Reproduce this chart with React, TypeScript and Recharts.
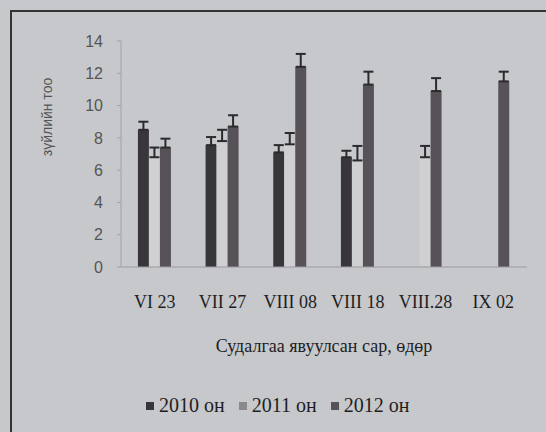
import React from 'react';
import { BarChart, Bar, XAxis, YAxis, ErrorBar, Label } from 'recharts';

const dates = ['VI 23', 'VII 27', 'VIII 08', 'VIII 18', 'VIII.28', 'IX 02'];
const y2010 = [8.5, 7.55, 7.1, 6.8, null, null];
const y2011 = [6.8, 7.8, 7.6, 6.6, 6.8, null];
const y2012 = [7.4, 8.7, 12.4, 11.3, 10.9, 11.5];
const err2010 = [0.5, 0.5, 0.45, 0.4, null, null];
const err2011 = [0.6, 0.7, 0.7, 0.9, 0.7, null];
const err2012 = [0.55, 0.7, 0.8, 0.8, 0.8, 0.6];
const yTicks = [0, 2, 4, 6, 8, 10, 12, 14];

const series = [
  { key: 'y2010', err: 'e2010', name: '2010 он', color: '#38363b', mark: '#38363b' },
  { key: 'y2011', err: 'e2011', name: '2011 он', color: '#d0d0d3', mark: '#8a8a8e' },
  { key: 'y2012', err: 'e2012', name: '2012 он', color: '#575257', mark: '#575257' },
];

const up = (v: number | null) => (v == null ? null : [0, v]);

const data = dates.map((d, i) => ({
  date: d,
  y2010: y2010[i],
  y2011: y2011[i],
  y2012: y2012[i],
  e2010: up(err2010[i]),
  e2011: up(err2011[i]),
  e2012: up(err2012[i]),
}));

const serif = '"Liberation Serif", "Times New Roman", serif';
const sans = '"Liberation Sans", Arial, sans-serif';

// rotated y title sits left of the tick labels, above the plot's middle
const YTitle = () => {
  const x = 47;
  const y = 117;
  return (
    <text
      x={x}
      y={y}
      transform={`rotate(-90 ${x} ${y})`}
      textAnchor="middle"
      dominantBaseline="central"
      fontFamily={sans}
      fontSize={14}
      fill="#555"
    >
      зүйлийн тоо
    </text>
  );
};

export default function App() {
  return (
    <div
      style={{
        position: 'absolute',
        left: 0,
        top: 0,
        width: 546,
        height: 432,
        background: '#c7c8cc',
        overflow: 'hidden',
      }}
    >
      <div
        style={{
          position: 'absolute',
          left: 10,
          top: 10,
          width: 560,
          height: 460,
          borderTop: '2px solid #333',
          borderLeft: '2px solid #333',
        }}
      />
      <div style={{ position: 'absolute', left: 0, top: 0 }}>
        <BarChart
          width={546}
          height={432}
          data={data}
          margin={{ top: 41, right: 19, bottom: 135, left: 30 }}
          barCategoryGap="25%"
          barGap={0}
        >
          <XAxis
            dataKey="date"
            interval={0}
            tickLine={false}
            tickSize={0}
            tickMargin={28}
            stroke="#9a9a9e"
            tick={{ fontFamily: serif, fontSize: 18, fill: '#1e1e1e' }}
          >
            <Label
              value="Судалгаа явуулсан сар, өдөр"
              position="bottom"
              offset={42}
              style={{ fontFamily: serif, fontSize: 18, fill: '#1e1e1e' }}
            />
          </XAxis>
          <YAxis
            width={91}
            domain={[0, 14]}
            ticks={yTicks}
            tickSize={4}
            tickMargin={14}
            stroke="#a2a2a6"
            tick={{ fontFamily: sans, fontSize: 16, fill: '#555' }}
          >
            <Label content={<YTitle />} />
          </YAxis>
          {series.map((s) => (
            <Bar key={s.key} dataKey={s.key} name={s.name} fill={s.color} isAnimationActive={false}>
              <ErrorBar dataKey={s.err} width={5} stroke="#2b2b2e" strokeWidth={2} isAnimationActive={false} />
            </Bar>
          ))}
        </BarChart>
      </div>
      <div
        style={{
          position: 'absolute',
          left: 146,
          top: 394,
          display: 'flex',
          alignItems: 'center',
          fontFamily: serif,
          fontSize: 20,
          color: '#1e1e1e',
          whiteSpace: 'nowrap',
        }}
      >
        {series.map((s) => (
          <span key={s.key} style={{ display: 'flex', alignItems: 'center', marginRight: 14 }}>
            <span
              style={{
                display: 'inline-block',
                width: 8,
                height: 8,
                background: s.mark,
                marginRight: 5,
              }}
            />
            {s.name}
          </span>
        ))}
      </div>
    </div>
  );
}
